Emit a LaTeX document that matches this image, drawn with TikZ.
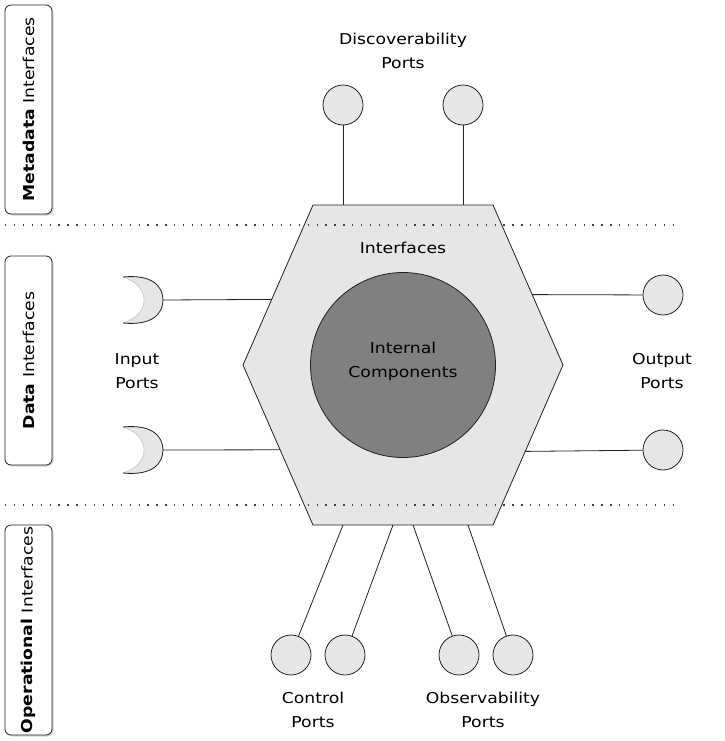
\documentclass[tikz,border=0pt]{standalone}
\usepackage{fontspec}
\setmainfont{DejaVu Sans}[FakeStretch=1.15]
\usetikzlibrary{calc,shadows}

\definecolor{portgray}{HTML}{E6E6E6}
\definecolor{coregray}{HTML}{808080}
\definecolor{edgegray}{HTML}{222222}

\tikzset{
  port/.style={circle,draw=edgegray,fill=portgray,minimum size=40pt,inner sep=0pt},
  sidebox/.style={draw=edgegray,fill=white,rounded corners=6pt,rotate=90,
    minimum width=209pt,minimum height=47pt,inner sep=0pt,
    drop shadow={shadow xshift=1.5pt,shadow yshift=-1.5pt,opacity=0.35}},
  layerline/.style={black!75,line width=1.4pt,dash pattern=on 1.3pt off 7.6pt},
  label/.style={align=center,inner sep=0pt},
  inport/.pic={
    \fill[portgray] (-40,-23) .. controls (-10,-26) and (0,-13) .. (0,0)
      .. controls (0,13) and (-10,26) .. (-40,23)
      .. controls (-25,18) and (-19,9) .. (-19,0)
      .. controls (-19,-9) and (-25,-18) .. (-40,-23);
    \draw[gray!45,line width=0.6pt] (-40,23) .. controls (-25,18) and (-19,9) .. (-19,0)
      .. controls (-19,-9) and (-25,-18) .. (-40,-23);
    \draw[edgegray] (-40,-23) .. controls (-10,-26) and (0,-13) .. (0,0)
      .. controls (0,13) and (-10,26) .. (-40,23);
  }
}

\begin{document}
\begin{tikzpicture}[x=1pt,y=-1pt,line width=0.8pt,font=\fontsize{15}{24}\selectfont]
  \useasboundingbox (0,0) rectangle (724,741);

  % Hexagon corners
  \coordinate (h1) at (313,205);
  \coordinate (h2) at (493,205);
  \coordinate (h3) at (563,365);
  \coordinate (h4) at (493,525);
  \coordinate (h5) at (313,525);
  \coordinate (h6) at (243,365);

  % Interfaces shell and core
  \draw[edgegray,fill=portgray] (h1)--(h2)--(h3)--(h4)--(h5)--(h6)--cycle;
  \node[label] (shell) at (403,248) {Interfaces};
  \node[circle,draw=edgegray,fill=coregray,minimum size=185pt,inner sep=0pt] (core) at (403,365) {};
  \node[label] (corelbl) at (403,361) {Internal\\Components};

  % Attachment points on the hexagon
  \coordinate (eL1) at ($(h6)!0.41!(h1)$);
  \coordinate (eL2) at ($(h6)!0.53!(h5)$);
  \coordinate (eR1) at ($(h3)!0.44!(h2)$);
  \coordinate (eR2) at ($(h3)!0.54!(h4)$);
  \foreach \n/\x in {eB1/343,eB2/393,eB3/413,eB4/468}
     {\coordinate (\n) at (\x,525);}

  % Layer separators
  \draw[layerline] (5,225) -- (680,225);
  \draw[layerline] (5,505) -- (680,505);

  % Layer boxes
  \node[sidebox] (meta) at (28.5,109.5) {\textbf{Metadata} Interfaces};
  \node[sidebox] (data) at (28.5,360.5) {\textbf{Data} Interfaces};
  \node[sidebox,minimum width=210pt] (oper) at (28.5,630) {\textbf{Operational} Interfaces};

  % Discoverability ports
  \foreach \p/\x in {disc1/343,disc2/463}
     {\node[port] (\p) at (\x,105) {}; \draw[edgegray] (\p) -- (\p |- h1);}
  \node[label] (disclbl) at (403,51) {Discoverability\\Ports};

  % Input ports
  \foreach \p/\y/\e in {in1/300/eL1,in2/450/eL2}
     {\coordinate (\p) at (163,\y); \pic at (\p) {inport}; \draw[edgegray] (\p) -- (\e);}
  \node[label] (inlbl) at (137,371) {Input\\Ports};

  % Output ports
  \foreach \p/\y/\e in {out1/295/eR1,out2/450/eR2}
     {\node[port] (\p) at (663,\y) {}; \draw[edgegray] (\e) -- (\p);}
  \node[label] (outlbl) at (662,371) {Output\\Ports};

  % Control and observability ports
  \foreach \p/\x/\e in {ctl1/291/eB1,ctl2/345/eB2,obs1/459/eB3,obs2/513/eB4}
     {\node[port] (\p) at (\x,655) {}; \draw[edgegray] (\e) -- (\p);}
  \node[label] (ctllbl) at (313,710) {Control\\Ports};
  \node[label] (obslbl) at (483,710) {Observability\\Ports};
\end{tikzpicture}
\end{document}
